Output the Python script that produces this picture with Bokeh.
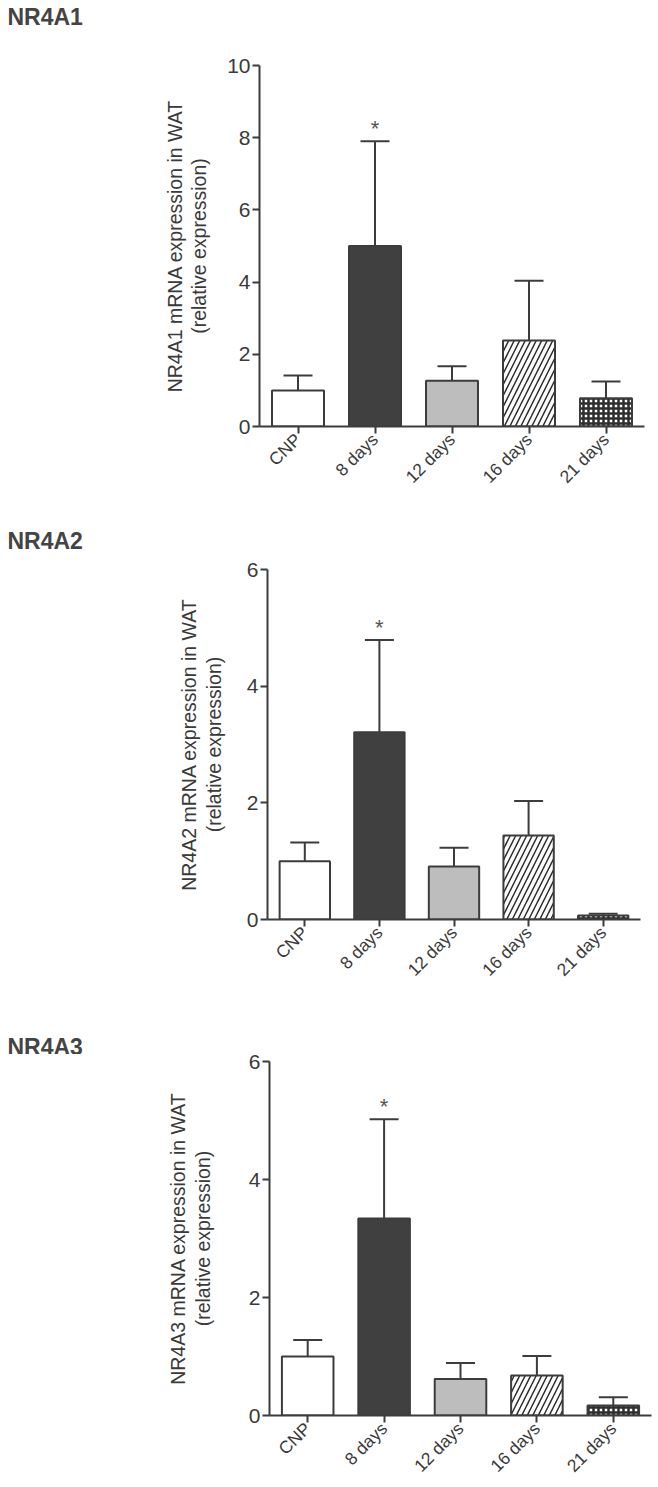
import math
from bokeh.plotting import figure
from bokeh.models import (ColumnDataSource, FactorRange, Range1d, FixedTicker,
                          Whisker, TeeHead, LinearAxis)
from bokeh.embed import file_html
from bokeh.resources import INLINE
from bokeh.core.properties import value

# ---------------- data ----------------
categories = ["CNP", "8 days", "12 days", "16 days", "21 days"]

nr4a1_mean = [1.00, 5.00, 1.27, 2.38, 0.78]
nr4a1_sem = [0.41, 2.90, 0.40, 1.66, 0.47]

nr4a2_mean = [1.00, 3.21, 0.91, 1.44, 0.07]
nr4a2_sem = [0.32, 1.58, 0.32, 0.59, 0.03]

nr4a3_mean = [1.00, 3.34, 0.62, 0.68, 0.17]
nr4a3_sem = [0.28, 1.68, 0.27, 0.33, 0.14]

significant = ["", "*", "", "", ""]

ticks_a1 = [0, 2, 4, 6, 8, 10]
ticks_a23 = [0, 2, 4, 6]

# ---------------- styles ----------------
fills = ["white", "#404040", "#bdbdbd", "white", "white"]
hatches = ["blank", "blank", "blank", "right_diagonal_line", "cross"]
hatch_scales = [12, 12, 12, 11, 5]
hatch_weights = [1, 1, 1, 1.5, 2.5]
INK = "#3c3c3c"
TXT = "#3a3a3a"
FONT = "Liberation Sans"


def strip_title(p):
    p.title.text = ""
    if "standoff" in p.title.properties():
        p.title.standoff = 0


def make_title(text, height, baseline):
    kw = dict(width=140, height=height, x_range=Range1d(0, 140),
              y_range=Range1d(height, 0), min_border=0,
              x_axis_location=None, y_axis_location=None,
              output_backend="svg", toolbar_location=None)
    try:
        t = figure(title=None, **kw)
        if t.title is not None:
            strip_title(t)
    except Exception:
        t = figure(**kw)
        strip_title(t)
    t.grid.visible = False
    t.outline_line_color = None
    t.text(x=[7], y=[baseline], text=[text], text_baseline="alphabetic",
           text_align="left", text_font=value(FONT), text_font_size="23px",
           text_font_style="bold", text_color="#444444")
    return t


def make_panel(gene, mean, sem, ymax, yticks, width, height, b_left,
               b_right, b_top, b_bottom, inner_standoff, outer_standoff):
    upper = [m + s for m, s in zip(mean, sem)]
    src = ColumnDataSource(dict(cat=categories, mean=mean, upper=upper,
                                fill=fills, hatch=hatches, hs=hatch_scales,
                                hw=hatch_weights, star=significant))
    p = figure(width=width, height=height,
               x_range=FactorRange(*categories, range_padding=0, factor_padding=0),
               y_range=Range1d(0, ymax),
               min_border_left=b_left, min_border_right=b_right,
               min_border_top=b_top, min_border_bottom=b_bottom,
               output_backend="svg", toolbar_location=None)
    strip_title(p)
    p.outline_line_color = None
    p.xgrid.visible = False
    p.ygrid.visible = False

    p.vbar(x="cat", top="mean", bottom=0, width=0.675, source=src,
           fill_color="fill", line_color=INK, line_width=2,
           hatch_pattern="hatch", hatch_color="#2e2e2e",
           hatch_scale="hs", hatch_weight="hw")

    w = Whisker(source=src, base="cat", lower="mean", upper="upper",
                line_color=INK, line_width=2, lower_head=None,
                upper_head=TeeHead(size=29, line_color=INK, line_width=2))
    p.add_layout(w)

    p.text(x="cat", y="upper", text="star", source=src, text_align="center",
           text_baseline="alphabetic", y_offset=-13,
           text_font=value(FONT), text_font_size="22px", text_color="#555555")

    for ax in (p.xaxis[0], p.yaxis[0]):
        ax.axis_line_width = 2
        ax.axis_line_color = INK
        ax.major_tick_line_width = 2
        ax.major_tick_line_color = INK
        ax.major_tick_in = 0
        ax.major_tick_out = 7
        ax.minor_tick_line_color = None
        ax.major_label_text_font = FONT
        ax.major_label_text_color = TXT

    p.yaxis.ticker = FixedTicker(ticks=yticks)
    p.yaxis.major_label_text_font_size = "21px"
    p.yaxis.major_label_standoff = 2
    p.yaxis.axis_label = "(relative expression)"
    p.yaxis.axis_label_text_font = FONT
    p.yaxis.axis_label_text_font_size = "19.5px"
    p.yaxis.axis_label_text_font_style = "normal"
    p.yaxis.axis_label_text_color = TXT
    p.yaxis.axis_label_standoff = inner_standoff

    outer = LinearAxis(ticker=FixedTicker(ticks=[]), axis_line_color=None,
                       major_tick_out=0, major_tick_in=0,
                       minor_tick_line_color=None, major_label_standoff=0,
                       axis_label=gene + " mRNA expression in WAT",
                       axis_label_text_font=FONT,
                       axis_label_text_font_size="19.5px",
                       axis_label_text_font_style="normal",
                       axis_label_text_color=TXT,
                       axis_label_standoff=outer_standoff)
    p.add_layout(outer, "left")

    p.xaxis.major_label_orientation = math.pi / 4
    p.xaxis.major_label_text_font_size = "17.5px"
    p.xaxis.major_label_standoff = 3
    return p


t1 = make_title("NR4A1", height=30, baseline=16)
p1 = make_panel("NR4A1", nr4a1_mean, nr4a1_sem, 10, ticks_a1,
                width=654, height=485, b_left=259, b_right=10, b_top=35,
                b_bottom=89, inner_standoff=14, outer_standoff=0)
t2 = make_title("NR4A2", height=35, baseline=25)
p2 = make_panel("NR4A2", nr4a2_mean, nr4a2_sem, 6, ticks_a23,
                width=654, height=470, b_left=267, b_right=14, b_top=19,
                b_bottom=101, inner_standoff=19, outer_standoff=0)
t3 = make_title("NR4A3", height=34, baseline=26)
p3 = make_panel("NR4A3", nr4a3_mean, nr4a3_sem, 6, ticks_a23,
                width=654, height=431, b_left=269, b_right=3, b_top=7,
                b_bottom=66, inner_standoff=32, outer_standoff=0)

open("out.html", "w").write(file_html([t1, p1, t2, p2, t3, p3], INLINE))
